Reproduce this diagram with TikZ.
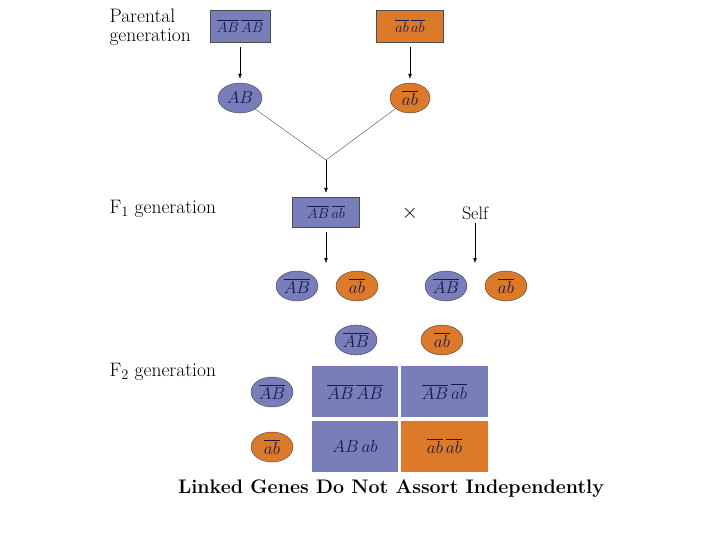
\documentclass[tikz,border=0pt]{standalone}
\usepackage{amsmath}
\usepackage{tikz}
\usetikzlibrary{arrows.meta,positioning,shapes.geometric}
\definecolor{linkblue}{RGB}{120,126,186}
\definecolor{linkorange}{RGB}{220,122,42}
\definecolor{inkblue}{RGB}{25,25,75}

\begin{document}
\begin{tikzpicture}[x=1pt,y=-1pt,>=Latex,
  geno/.style={draw=black!70,minimum width=60pt,minimum height=32pt,inner sep=1pt,
               text=inkblue,font=\fontsize{14.5}{16}\selectfont},
  gamete/.style={ellipse,draw=black!75,minimum width=42pt,minimum height=30pt,inner sep=0pt,
                 text=inkblue,font=\fontsize{17}{19}\selectfont},
  cell/.style={minimum width=86pt,minimum height=51pt,inner sep=0pt,text=inkblue,
               font=\fontsize{18}{20}\selectfont},
  lbl/.style={anchor=west,align=left,font=\fontsize{19.5}{19}\selectfont},
  tie/.style={draw=black!70,thin}]
\useasboundingbox (0,0) rectangle (720,540);

% parents
\node[lbl] (plab) at (106,27) {Parental\\generation};
\node[geno,fill=linkblue] (pAB) at (240,26) {$\overline{AB}\,\overline{AB}$};
\node[geno,fill=linkorange,minimum width=67pt] (pab) at (410,26) {$\overline{ab}\,\overline{ab}$};
\node[gamete,fill=linkblue,minimum width=44pt] (gAB) at (240,98) {$AB$};
\node[gamete,fill=linkorange,minimum width=40pt] (gab) at (410,98) {$\overline{ab}$};
\draw[->,shorten <=5pt,shorten >=4pt] (pAB) -- (gAB);
\draw[->,shorten <=5pt,shorten >=4pt] (pab) -- (gab);

% F1
\coordinate (join) at (326,160);
\draw[tie] (gAB) -- (join);
\draw[tie] (gab) -- (join);
\node[lbl] (f1lab) at (106,209) {F$_1$ generation};
\node[geno,fill=linkblue,minimum width=67pt,minimum height=30pt] (f1) at (326,212) {$\overline{AB}\,\overline{ab}$};
\draw[->,shorten >=4pt] (join) -- (f1);
\node[font=\fontsize{22}{22}\selectfont] (cross) at (410,213) {$\times$};
\node[font=\fontsize{18}{18}\selectfont] (self) at (475,213) {Self};
\coordinate (f1tip) at (326,263);
\coordinate (selftip) at (475,263);
\draw[->,shorten <=5pt] (f1) -- (f1tip);
\draw[->] (self) -- (selftip);

% gametes of the F1
\node[gamete,fill=linkblue] (m1) at (297,286) {$\overline{AB}$};
\node[gamete,fill=linkorange] (m2) at (357,286) {$\overline{ab}$};
\node[gamete,fill=linkblue] (s1) at (446,286) {$\overline{AB}$};
\node[gamete,fill=linkorange] (s2) at (506,286) {$\overline{ab}$};

% F2
\node[lbl] (f2lab) at (106,372) {F$_2$ generation};
\node[gamete,fill=linkblue] (cAB) at (356,340) {$\overline{AB}$};
\node[gamete,fill=linkorange] (cab) at (442,340) {$\overline{ab}$};
\node[gamete,fill=linkblue] (rAB) at (272,392) {$\overline{AB}$};
\node[gamete,fill=linkorange] (rab) at (272,447) {$\overline{ab}$};
\node[cell,fill=linkblue] (c11) at (355,391.5) {$\overline{AB}\,\overline{AB}$};
\node[cell,fill=linkblue,minimum width=87pt] (c12) at (444.5,391.5) {$\overline{AB}\,\overline{ab}$};
\node[cell,fill=linkblue] (c21) at (355,446) {$AB\,ab$};
\node[cell,fill=linkorange,minimum width=87pt] (c22) at (444.5,446) {$\overline{ab}\,\overline{ab}$};

\node[font=\fontsize{19.6}{21}\bfseries] (title) at (391,489) {Linked Genes Do Not Assort Independently};
\end{tikzpicture}
\end{document}
